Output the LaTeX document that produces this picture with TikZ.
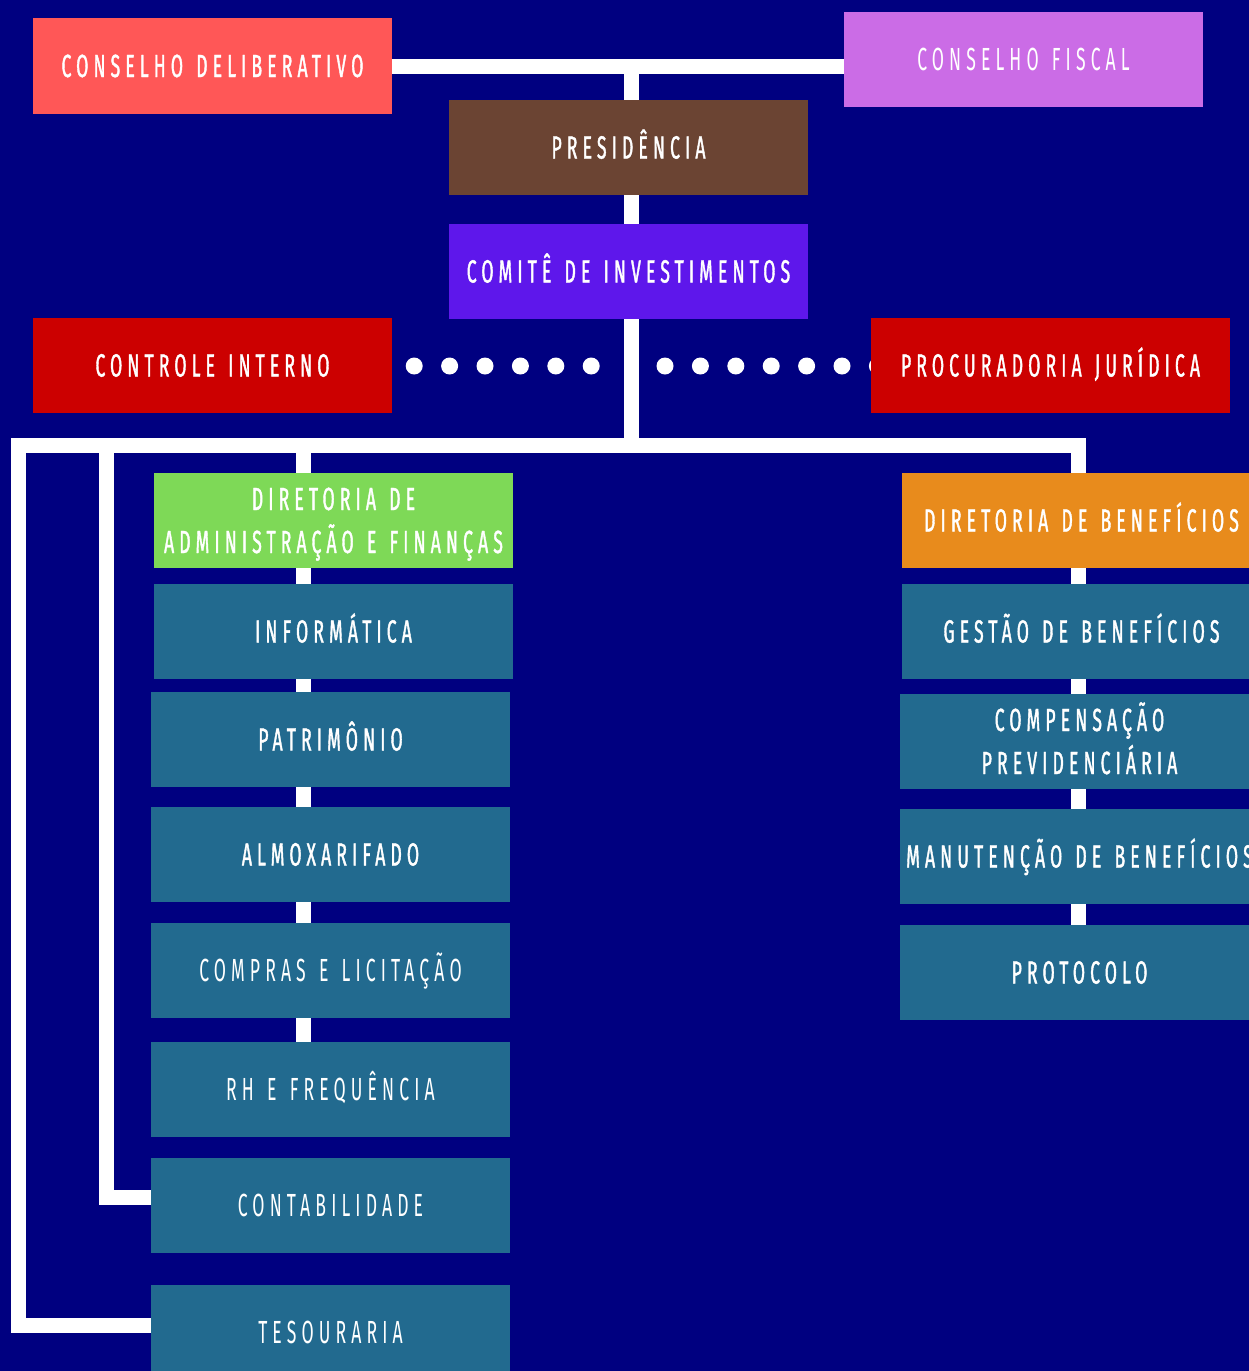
\documentclass[tikz,border=0pt]{standalone}
\usepackage{fontspec}
\usetikzlibrary{calc}
\newfontfamily\bxthin[FakeStretch=0.55,LetterSpace=16,WordSpace=1.35]{Fira Sans}
\newfontfamily\bxbold[FakeStretch=0.55,LetterSpace=16,WordSpace=1.35,FakeBold=1.2]{Fira Sans}
\definecolor{navybg}{HTML}{000080}
\definecolor{coral}{HTML}{FF5757}
\definecolor{lilac}{HTML}{CB6CE6}
\definecolor{brownbx}{HTML}{6B4433}
\definecolor{violetbx}{HTML}{5E17EB}
\definecolor{redbx}{HTML}{CC0000}
\definecolor{greenbx}{HTML}{7ED957}
\definecolor{orangebx}{HTML}{E88B1C}
\definecolor{tealbx}{HTML}{226A8F}
\pgfdeclarelayer{back}
\pgfdeclarelayer{conn}
\pgfsetlayers{back,conn,main}
\tikzset{
  box/.style={rectangle, inner sep=0pt, minimum width=359pt, minimum height=95pt,
    text=white, align=center, text height=22pt, text depth=0pt,
    font=\bxbold\fontsize{32}{43}\selectfont},
  twoline/.style={text height=65pt, text depth=0pt},
  thin/.style={font=\bxthin\fontsize{32}{43}\selectfont},
  wire/.style={draw=white, line width=15pt, line join=miter, line cap=butt},
  dots/.style={draw=white, line width=17pt, line cap=round, dash pattern=on 0pt off 35.4pt}
}
\begin{document}
\begin{tikzpicture}[x=1pt,y=-1pt]
\begin{pgfonlayer}{back}
\fill[navybg] (0,0) rectangle (1249,1371);
\end{pgfonlayer}
\useasboundingbox (0,0) rectangle (1249,1371);
% top level
\node[box, fill=coral, minimum height=96pt] (cd) at (212.5,66) {CONSELHO DELIBERATIVO};
\node[box, thin, fill=lilac] (cf) at (1023.5,59.5) {CONSELHO FISCAL};
\node[box, fill=brownbx] (pres) at (628.5,147.5) {PRESIDÊNCIA};
\node[box, fill=violetbx] (com) at (628.5,271.5) {COMITÊ DE INVESTIMENTOS};
\node[box, fill=redbx] (ci) at (212.5,365.5) {CONTROLE INTERNO};
\node[box, fill=redbx] (pj) at (1050.5,365.5) {PROCURADORIA JURÍDICA};
% left column
\node[box, twoline, fill=greenbx] (daf) at (333.5,520.5) {DIRETORIA DE\\ADMINISTRAÇÃO E FINANÇAS};
\node[box, fill=tealbx] (info) at (333.5,631.5) {INFORMÁTICA};
\node[box, fill=tealbx] (patr) at (330.5,739.5) {PATRIMÔNIO};
\node[box, fill=tealbx] (alm) at (330.5,854.5) {ALMOXARIFADO};
\node[box, thin, fill=tealbx] (comp) at (330.5,970.5) {COMPRAS E LICITAÇÃO};
\node[box, thin, fill=tealbx] (rh) at (330.5,1089.5) {RH E FREQUÊNCIA};
\node[box, thin, fill=tealbx] (cont) at (330.5,1205.5) {CONTABILIDADE};
\node[box, thin, fill=tealbx] (tes) at (330.5,1332.5) {TESOURARIA};
% right column
\node[box, fill=orangebx] (db) at (1081.5,520.5) {DIRETORIA DE BENEFÍCIOS};
\node[box, fill=tealbx] (gb) at (1081.5,631.5) {GESTÃO DE BENEFÍCIOS};
\node[box, twoline, fill=tealbx] (cp) at (1079.5,741.5) {COMPENSAÇÃO\\PREVIDENCIÁRIA};
\node[box, fill=tealbx] (mb) at (1079.5,856.5) {MANUTENÇÃO DE BENEFÍCIOS};
\node[box, fill=tealbx] (prot) at (1079.5,972.5) {PROTOCOLO};
% junction coordinates
\coordinate (top) at (631.5,66.5);
\coordinate (hub) at (631.5,445.5);
\coordinate (lft) at (18.5,445.5);
\coordinate (mid) at (106.5,445.5);
\coordinate (col) at (303.5,445.5);
\coordinate (rgt) at (1078,445.5);
\begin{pgfonlayer}{conn}
\draw[wire] (cd.east) -- (cd.east -| cf.west);
\draw[wire] (top) -- (hub);
\draw[wire] (db.north -| rgt) |- (lft) |- ($(tes.west)+(0,-7)$);
\draw[wire] (mid) |- ($(cont.west)+(0,-8)$);
\draw[wire] (col) -- (col |- rh.north);
\draw[wire] (rgt) -- (rgt |- prot.north);
\draw[dots] ($(ci.east)+(22,0.5)$) -- (592.5,366);
\draw[dots] (665,366) -- ($(pj.west)+(8,0.5)$);
\end{pgfonlayer}
\end{tikzpicture}
\end{document}
